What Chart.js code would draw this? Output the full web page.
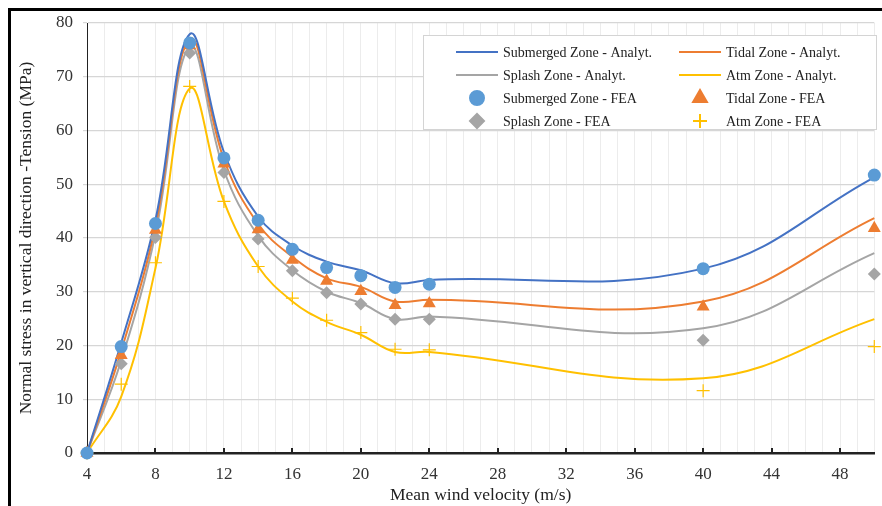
<!DOCTYPE html>
<html>
<head>
<meta charset="utf-8">
<script src="https://cdn.jsdelivr.net/npm/chart.js@4/dist/chart.umd.min.js"></script>
<style>
  html, body { margin: 0; padding: 0; background: #fff; }
  #wrap { width: 882px; height: 506px; }
</style>
</head>
<body>
<div id="wrap"><canvas id="myChart"></canvas></div>
<script>
// wind velocities (m/s)
const velocity = [4, 6, 8, 10, 12, 14, 16, 18, 20, 22, 24, 40, 50];

// analytical stress curves (MPa)
const submergedAnalyt = [0, 20.5, 43.4, 77.9, 56.0, 44.0, 38.6, 35.6, 34.0, 31.6, 32.2, 34.3, 51.3];
const tidalAnalyt     = [0, 19.0, 42.2, 77.0, 54.6, 42.6, 36.5, 32.5, 30.9, 28.2, 28.5, 28.2, 43.7];
const splashAnalyt    = [0, 17.2, 40.8, 75.6, 52.6, 40.4, 34.0, 30.0, 27.9, 24.9, 25.4, 23.2, 37.2];
const atmAnalyt       = [0, 10.5, 34.4, 67.8, 46.8, 34.7, 28.2, 24.4, 22.0, 18.8, 18.8, 13.9, 24.9];

// FEA results (MPa)
const submergedFEA = [0, 19.8, 42.7, 76.3, 54.9, 43.3, 37.9, 34.5, 33.0, 30.8, 31.4, 34.3, 51.7];
const tidalFEA     = [0, 18.2, 41.5, 75.8, 53.8, 41.6, 35.9, 32.0, 30.1, 27.5, 27.8, 27.2, 41.8];
const splashFEA    = [0, 16.6, 40.1, 74.4, 52.2, 39.8, 33.9, 29.8, 27.7, 24.9, 24.9, 21.0, 33.3];
const atmFEA       = [0, 12.8, 35.4, 68.2, 46.8, 34.7, 28.8, 24.7, 22.4, 19.3, 19.2, 11.6, 19.8];

const xLabelTicks = [4, 8, 12, 16, 20, 24, 28, 32, 36, 40, 44, 48];
const yTicks = [0, 10, 20, 30, 40, 50, 60, 70, 80];

const serif = "'Liberation Serif', 'Times New Roman', serif";

const pts = ys => velocity.map((v, i) => ({ x: v, y: ys[i] }));

function curve(label, ys, color) {
  return {
    label, data: pts(ys), showLine: true, borderColor: color, backgroundColor: color,
    borderWidth: 2, pointRadius: 0, pointHoverRadius: 0, tension: 0.4, order: 1, clip: false
  };
}
function markers(label, ys, color, style, r) {
  return {
    label, data: pts(ys), showLine: false, borderColor: color, backgroundColor: color,
    pointStyle: style, pointRadius: r, pointBorderWidth: style === 'cross' ? 1.2 : 0,
    order: 0, clip: false
  };
}

// legend box drawn inside the plot
const boxLegend = {
  id: 'boxLegend',
  afterDatasetsDraw(chart) {
    const ctx = chart.ctx;
    const x0 = 423, y0 = 35, w = 453, h = 94;
    ctx.save();
    ctx.fillStyle = '#fff';
    ctx.fillRect(x0, y0, w, h);
    ctx.strokeStyle = '#d4d4d4';
    ctx.lineWidth = 1;
    ctx.strokeRect(x0 + 0.5, y0 + 0.5, w, h);
    ctx.font = '14px ' + serif;
    ctx.textBaseline = 'middle';
    const cols = [456, 679];
    const rows = [52, 75, 98, 121];
    chart.data.datasets.forEach((ds, i) => {
      const cx = cols[i % 2], cy = rows[Math.floor(i / 2)];
      if (ds.showLine) {
        ctx.strokeStyle = ds.borderColor;
        ctx.lineWidth = 2;
        ctx.beginPath();
        ctx.moveTo(cx, cy);
        ctx.lineTo(cx + 42, cy);
        ctx.stroke();
      } else {
        ctx.fillStyle = ds.backgroundColor;
        ctx.strokeStyle = ds.borderColor;
        Chart.helpers.drawPoint(ctx, {
          pointStyle: ds.pointStyle, radius: ds.pointRadius + 0.5, rotation: 0,
          borderWidth: ds.pointBorderWidth || 1
        }, cx + 21, cy);
      }
      ctx.fillStyle = '#222';
      ctx.fillText(ds.label, cx + 47, cy + 1);
    });
    ctx.restore();
  }
};

// outer frame and the small upward ticks on the velocity axis
const frameAndTicks = {
  id: 'frameAndTicks',
  beforeDatasetsDraw(chart) {
    const ctx = chart.ctx, xs = chart.scales.x, ys = chart.scales.y;
    ctx.save();
    ctx.strokeStyle = '#222';
    ctx.lineWidth = 2;
    xLabelTicks.forEach(v => {
      const px = Math.round(xs.getPixelForValue(v));
      ctx.beginPath();
      ctx.moveTo(px, ys.bottom);
      ctx.lineTo(px, ys.bottom - 5);
      ctx.stroke();
    });
    ctx.restore();
  },
  afterDraw(chart) {
    const ctx = chart.ctx;
    ctx.save();
    ctx.strokeStyle = '#000';
    ctx.lineWidth = 3;
    ctx.beginPath();
    ctx.moveTo(9.5, 520);
    ctx.lineTo(9.5, 9.5);
    ctx.lineTo(900, 9.5);
    ctx.stroke();
    ctx.restore();
  }
};

const ctx = document.getElementById('myChart').getContext('2d');
new Chart(ctx, {
  type: 'scatter',
  data: {
    datasets: [
      curve('Submerged Zone - Analyt.', submergedAnalyt, '#4472C4'),
      curve('Tidal Zone - Analyt.', tidalAnalyt, '#ED7D31'),
      curve('Splash Zone - Analyt.', splashAnalyt, '#A5A5A5'),
      curve('Atm Zone - Analyt.', atmAnalyt, '#FFC000'),
      markers('Submerged Zone - FEA', submergedFEA, '#5B9BD5', 'circle', 6.5),
      markers('Tidal Zone - FEA', tidalFEA, '#ED7D31', 'triangle', 7.5),
      markers('Splash Zone - FEA', splashFEA, '#A5A5A5', 'rectRot', 6.5),
      markers('Atm Zone - FEA', atmFEA, '#FFC000', 'cross', 6.5)
    ]
  },
  options: {
    responsive: true,
    maintainAspectRatio: false,
    animation: false,
    layout: { padding: { left: 12, right: 0, top: 23, bottom: 0 } },
    plugins: { legend: { display: false }, tooltip: { enabled: false } },
    scales: {
      x: {
        type: 'linear', min: 4, max: 50,
        afterFit: s => { s.height = 53; s.paddingRight = 5; },
        afterBuildTicks: s => {
          s.ticks = [];
          for (let v = 4; v <= 50; v++) s.ticks.push({ value: v });
        },
        ticks: {
          autoSkip: false, maxRotation: 0, padding: 11,
          color: '#333', font: { family: serif, size: 17 },
          callback: v => (xLabelTicks.includes(v) ? v : '')
        },
        grid: { color: '#ececec', lineWidth: 1, drawTicks: false },
        border: { color: '#222', width: 2.5 },
        title: {
          display: true, text: 'Mean wind velocity (m/s)', color: '#222',
          font: { family: serif, size: 17.5 }, padding: { top: 0, bottom: 0 }
        }
      },
      y: {
        min: 0, max: 80,
        afterFit: s => { s.width = 75; s.paddingTop = 0; s.paddingBottom = 0; },
        afterBuildTicks: s => { s.ticks = yTicks.map(v => ({ value: v })); },
        ticks: { color: '#333', font: { family: serif, size: 17 }, padding: 10 },
        grid: { color: '#d6d6d6', lineWidth: 1.2, tickLength: 4 },
        border: { color: '#222', width: 1 },
        title: {
          display: true, text: 'Normal stress in vertical direction -Tension (MPa)', color: '#222',
          font: { family: serif, size: 17.5 }, padding: { top: 4, bottom: 4 }
        }
      }
    }
  },
  plugins: [frameAndTicks, boxLegend]
});
</script>
</body>
</html>
